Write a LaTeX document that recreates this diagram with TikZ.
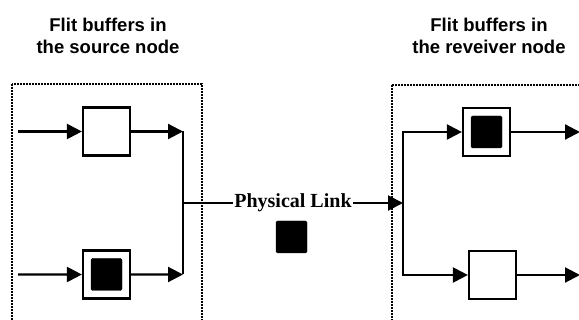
\documentclass[tikz,border=0pt]{standalone}
\usepackage{fontspec}
\setmainfont{Liberation Serif}
\newfontfamily\headfont{Liberation Sans}
\usetikzlibrary{arrows.meta, positioning}

\begin{document}
\begin{tikzpicture}[
        x=1pt, y=-1pt,
        buffer/.style={rectangle, draw, line width=2.2pt, minimum width=47pt, minimum height=48pt, inner sep=0pt},
        flit/.style={rectangle, draw, fill=black, rounded corners=1.5pt, minimum width=31pt, minimum height=32pt, inner sep=0pt},
        title/.style={align=center, font=\headfont\bfseries\fontsize{18.5}{22}\selectfont},
        region/.style={densely dotted, line width=2pt},
        wire/.style={line width=2.2pt},
        arrow/.style={wire, -{Triangle[length=15pt, width=15pt]}}
    ]
        \useasboundingbox (0,0) rectangle (579,320);
        \clip (0,0) rectangle (579,320);

        % Titles
        \node[title] (srcTitle) at (108,36) {Flit buffers in\\the source node};
        \node[title] (dstTitle) at (489,36) {Flit buffers in\\the reveiver node};

        % Dotted regions (cut off at the bottom)
        \draw[region] (12,84) rectangle (202,340);
        \draw[region] (392,85) rectangle (600,340);

        % Source node buffers
        \node[buffer] (srcA) at (106.5,131.5) {};
        \node[buffer, below=92.8pt of srcA] (srcB) {};
        \node[flit] (flitB) at (srcB) {};
        \coordinate (inA) at (18,131.5);
        \coordinate (inB) at (18,274.5);
        \coordinate (joinA) at (183,131.5);
        \coordinate (joinB) at (183,274.5);

        % Receiver node buffers
        \node[buffer] (dstA) at (486.5,132) {};
        \node[flit] (flitA) at (dstA) {};
        \node[buffer] (dstB) at (492.5,275) {};
        \coordinate (splitA) at (403,132);
        \coordinate (splitB) at (403,275);
        \coordinate (outA) at (580,132);
        \coordinate (outB) at (580,275);

        % Link
        \coordinate (linkL) at (183,203);
        \coordinate (linkR) at (403,203);
        \node[flit] (flitM) at (291.5,237) {};

        % Edges
        \draw[arrow] (inA) -- (srcA);
        \draw[arrow] (inB) -- (srcB);
        \draw[arrow] (srcA) -- (joinA);
        \draw[arrow] (srcB) -- (joinB);
        \draw[wire] (joinA) -- (joinB);

        \draw[arrow] (linkL) -- node[fill=white, inner sep=1pt, font=\bfseries\fontsize{20}{20}\selectfont] (link) {Physical Link} (linkR);

        \draw[arrow] (splitB) -- (splitA) -- (dstA);
        \draw[arrow] (splitA) -- (splitB) -- (dstB);
        \draw[arrow] (dstA) -- (outA);
        \draw[arrow] (dstB) -- (outB);

\end{tikzpicture}
\end{document}
